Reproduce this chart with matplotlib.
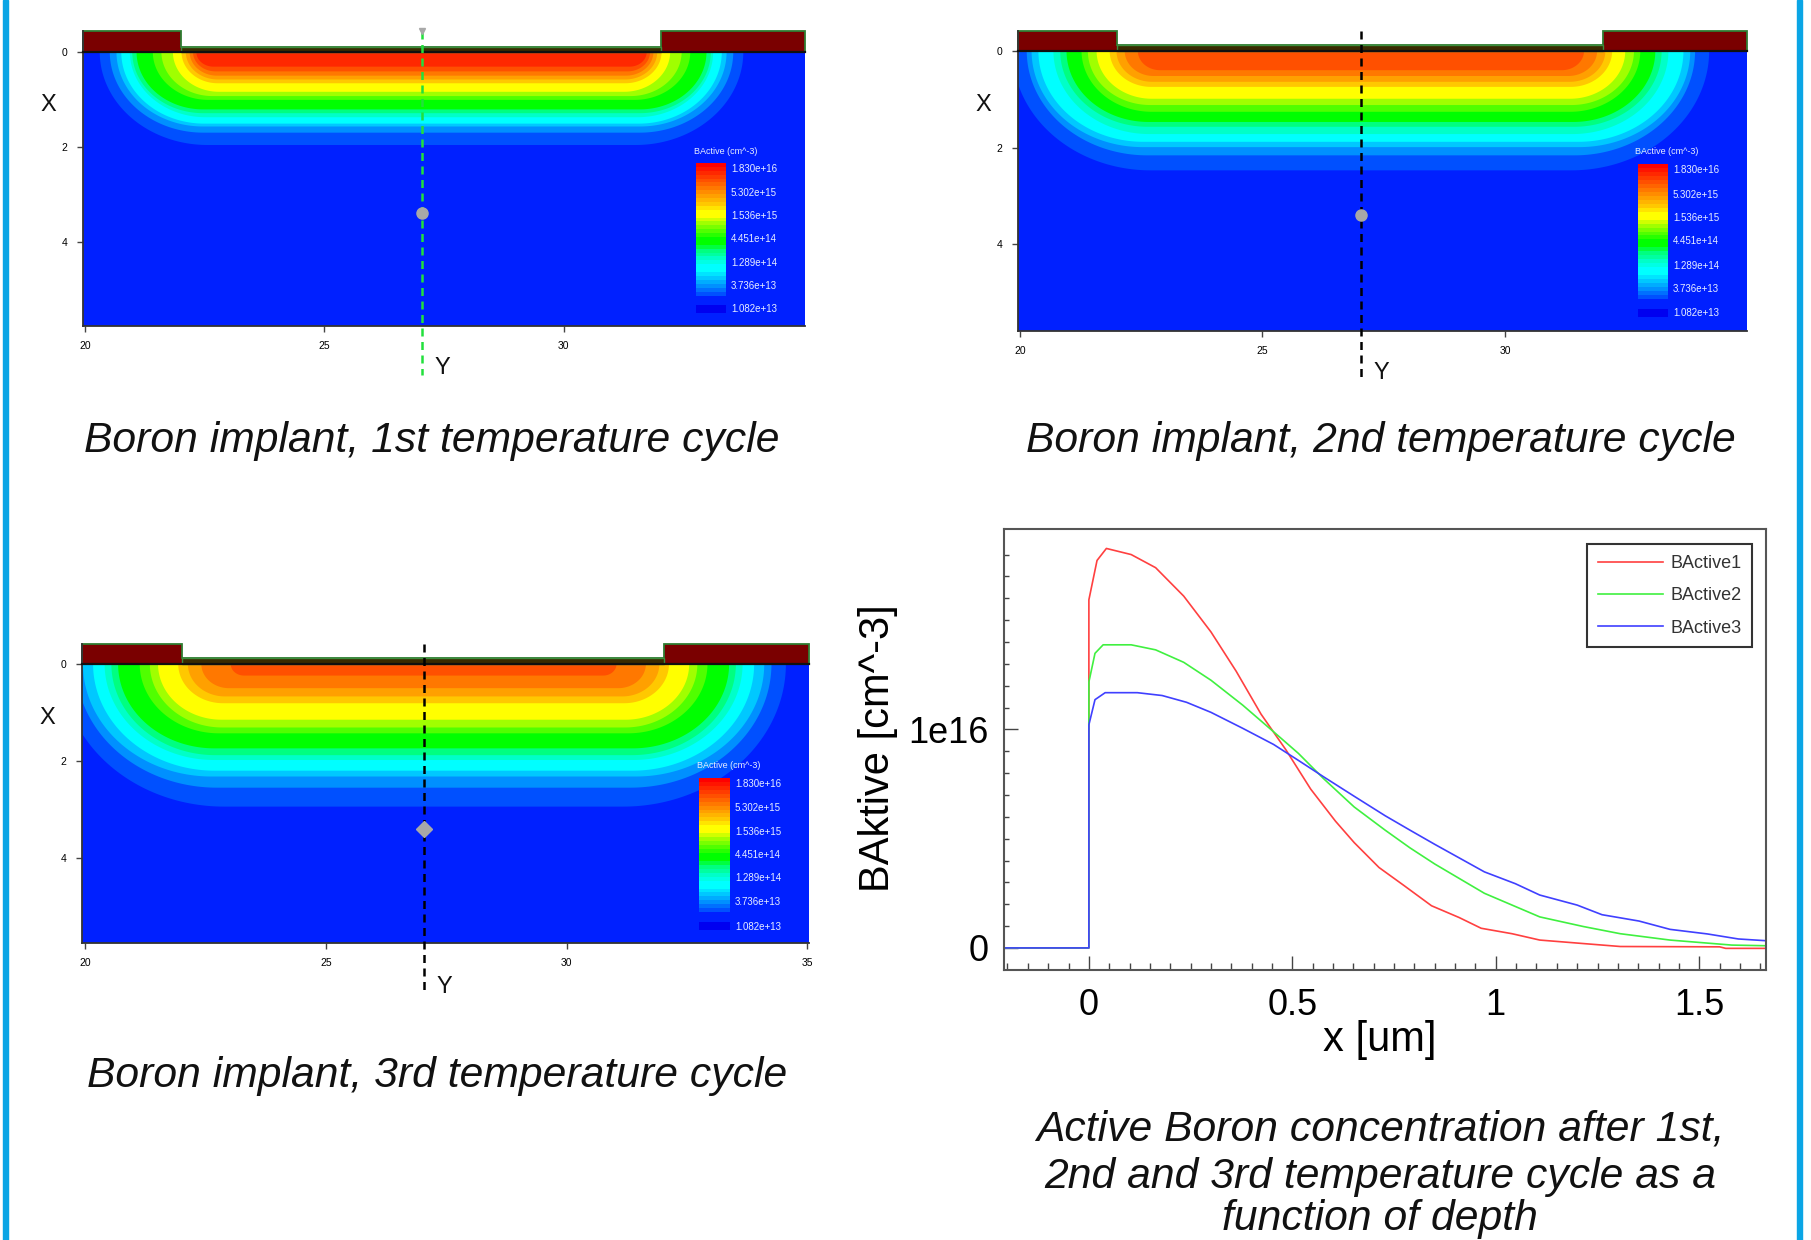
# boron implant panels and depth profiles

import numpy as np
import matplotlib
matplotlib.use("Agg")
import matplotlib.pyplot as plt
from matplotlib.patches import Rectangle

plt.rcParams["font.family"] = ["Liberation Sans", "DejaVu Sans"]

W, H = 1811, 1240

# colour bands of the implant, outermost band last
band_colors = ["#ff2800", "#ff5000", "#ff7800", "#ffa000", "#ffc800", "#ffff00", "#a0ff00", "#50ff00",
	"#00ff00", "#00ff80", "#00ffc8", "#00ffff", "#00c8ff", "#0090ff", "#0050ff"]

# depth of each band on the centre line, and its left edge at the surface
depth1 = [0.31, 0.41, 0.50, 0.58, 0.66, 0.84, 0.93, 1.01, 1.21, 1.29, 1.375, 1.51, 1.57, 1.70, 1.96]
left1 = [22.32, 22.25, 22.18, 22.10, 22.01, 21.83, 21.59, 21.41, 21.07, 20.98, 20.93, 20.75, 20.65, 20.51, 20.30]
depth2 = [0.40, 0.52, 0.64, 0.745, 0.99, 1.12, 1.26, 1.47, 1.57, 1.72, 1.88, 1.99, 2.16, 2.47]
left2 = [22.43, 22.16, 21.99, 21.85, 21.58, 21.40, 21.27, 20.96, 20.83, 20.69, 20.38, 20.24, 20.14, 19.85]
depth3 = [0.24, 0.50, 0.67, 0.81, 1.15, 1.31, 1.43, 1.74, 1.88, 1.98, 2.20, 2.32, 2.55, 2.94]
left3 = [23.02, 22.41, 22.13, 21.93, 21.51, 21.34, 21.13, 20.68, 20.54, 20.40, 20.16, 19.95, 19.80, 19.50]

bar_colors = ["#ff0000", "#ff1400", "#ff2800", "#ff3c00", "#ff5000", "#ff6400", "#ff7800", "#ff8c00", "#ffa000",
	"#ffb400", "#ffc800", "#ffe400", "#ffff00", "#ffff00", "#d0ff00", "#a0ff00", "#78ff00", "#50ff00", "#28ff00",
	"#00ff00", "#00ff00", "#00ff40", "#00ff80", "#00ffa0", "#00ffc8", "#00ffe4", "#00ffff", "#00ffff", "#00e4ff",
	"#00c8ff", "#00acff", "#0090ff", "#0070ff", "#0050ff"]
bar_labels = ["1.830e+16", "5.302e+15", "1.536e+15", "4.451e+14", "1.289e+14", "3.736e+13", "1.082e+13"]

# depth profiles, x in um and concentration in 1e16 cm^-3
x1 = [-0.2086, 0, 0, 0.02, 0.043, 0.104, 0.164, 0.233, 0.30, 0.362, 0.423, 0.484, 0.545, 0.606, 0.652, 0.713,
	0.774, 0.842, 0.91, 0.964, 1.04, 1.108, 1.215, 1.306, 1.55, 1.565, 1.664]
b1 = [0, 0, 1.593, 1.773, 1.828, 1.80, 1.74, 1.61, 1.446, 1.266, 1.07, 0.907, 0.727, 0.58, 0.482, 0.368,
	0.286, 0.193, 0.139, 0.09, 0.065, 0.036, 0.02, 0.0065, 0.005, -0.002, -0.002]
x2 = [-0.2086, 0, 0, 0.015, 0.035, 0.104, 0.164, 0.233, 0.30, 0.378, 0.454, 0.515, 0.576, 0.652, 0.728, 0.789,
	0.85, 0.972, 1.108, 1.215, 1.306, 1.428, 1.58, 1.664]
b2 = [0, 0, 1.217, 1.348, 1.387, 1.387, 1.364, 1.307, 1.225, 1.111, 0.989, 0.89, 0.776, 0.645, 0.539, 0.458,
	0.384, 0.25, 0.142, 0.098, 0.065, 0.036, 0.013, 0.01]
x3 = [-0.2086, 0, 0, 0.015, 0.04, 0.119, 0.18, 0.24, 0.30, 0.378, 0.454, 0.515, 0.576, 0.652, 0.728, 0.789,
	0.85, 0.972, 1.048, 1.108, 1.2, 1.261, 1.352, 1.428, 1.52, 1.596, 1.664]
b3 = [0, 0, 1.021, 1.136, 1.168, 1.168, 1.155, 1.124, 1.078, 1.005, 0.931, 0.858, 0.784, 0.694, 0.605, 0.539,
	0.474, 0.348, 0.294, 0.242, 0.196, 0.152, 0.123, 0.085, 0.064, 0.041, 0.033]

def px_axes(fig, left, top, right, bottom):
	return fig.add_axes([left / W, 1 - bottom / H, (right - left) / W, (bottom - top) / H])

def px_text(fig, x, y, s, **kw):
	kw.setdefault("ha", "center")
	kw.setdefault("va", "center")
	fig.text(x / W, 1 - y / H, s, **kw)

def implant_panel(fig, box, xlim, ylim, thin, xticks, depth, left, colors, line_color, line_end, bar_box, label_ys, title_xy, x_pos, y_pos, dot_shape):
	ax = px_axes(fig, *box)
	ax.set_xlim(xlim)
	ax.set_ylim(ylim)
	ax.add_patch(Rectangle((xlim[0], 0), xlim[1] - xlim[0], ylim[0], color="#0020ff", zorder=0))

	# nested bands, outermost first
	t = np.linspace(0, np.pi / 2, 60)
	centre = 27.03
	for d, l, c in reversed(list(zip(depth, left, colors))):
		a = 1.15 * d
		lx = l + a - a * np.cos(t)
		ly = d * np.sin(t)
		xs = np.concatenate([lx, (2 * centre - lx)[::-1]])
		ys = np.concatenate([ly, ly[::-1]])
		ax.fill(xs, ys, color=c, lw=0, zorder=1)

	# oxide on top
	ox = [xlim[0], 22.0, 22.0, 32.03, 32.03, xlim[1], xlim[1], xlim[0]]
	oy = [ylim[1], ylim[1], thin, thin, ylim[1], ylim[1], 0, 0]
	ax.fill(ox, oy, facecolor="#7a0000", edgecolor="#2f7d32", lw=1.3, zorder=2, clip_on=False)
	ax.fill([22.0, 32.03, 32.03, 22.0], [thin, thin, 0, 0], facecolor="#3a2a00", edgecolor="#3c8c3c", lw=1.0, zorder=3)
	ax.plot(xlim, [0, 0], color="#101010", lw=1.6, zorder=4, clip_on=False)

	# cut line and its handle
	ax.plot([centre, centre], [ylim[1], line_end], color=line_color, lw=1.8, ls=(0, (3.2, 2.2)), zorder=5, clip_on=False)
	ax.plot([centre], [3.4], marker=dot_shape, ms=8, color="#a8a8a8", zorder=6)
	if line_color != "#000000":
		ax.plot([centre], [ylim[1]], marker="v", ms=5, color="#a8a8a8", zorder=6, clip_on=False)

	ax.set_xticks(xticks)
	ax.set_yticks([0, 2, 4])
	ax.tick_params(labelsize=7.5, length=4, width=1, color="#444444", pad=7)
	for s in ["top", "right"]:
		ax.spines[s].set_visible(False)
	for s in ["left", "bottom"]:
		ax.spines[s].set_color("#333333")
		ax.spines[s].set_linewidth(1.3)

	# colour legend
	bx = px_axes(fig, *bar_box)
	bx.barh(np.arange(len(bar_colors)), 1, height=1.02, color=bar_colors)
	bx.barh([len(bar_colors) + 3], 1, height=2.2, color="#0000f0")
	bx.set_xlim(0, 1)
	bx.set_ylim(len(bar_colors) + 4, -0.5)
	bx.axis("off")
	for lab, y in zip(bar_labels, label_ys):
		px_text(fig, bar_box[2] + 5, y, lab, ha="left", fontsize=7, color="#e8eeff")
	px_text(fig, title_xy[0], title_xy[1], "BActive (cm^-3)", ha="left", fontsize=6.5, color="#e8eeff")
	px_text(fig, x_pos[0], x_pos[1], "X", fontsize=17, color="#111111")
	px_text(fig, y_pos[0], y_pos[1], "Y", fontsize=17, color="#111111")
	return ax

fig = plt.figure(figsize=(W / 100, H / 100), dpi=100, facecolor="white")

# side stripes
fig.add_artist(Rectangle((3 / W, 0), 5 / W, 1, transform=fig.transFigure, color="#0aa5e5"))
fig.add_artist(Rectangle((1797 / W, 0), 5 / W, 1, transform=fig.transFigure, color="#0aa5e5"))

implant_panel(fig, (83, 31, 805, 326), (19.95, 35.05), (5.77, -0.44), -0.1, [20, 25, 30], depth1, left1, band_colors,
	"#22e03c", 6.8, (696, 163, 726, 313), [169, 193, 216, 239, 263, 286, 309], (694, 151), (48, 105), (442, 368), "o")
implant_panel(fig, (1018, 31, 1747, 331), (19.96, 34.99), (5.79, -0.41), -0.12, [20, 25, 30], depth2, left2, band_colors[1:],
	"#000000", 6.75, (1638, 164, 1668, 317), [170, 195, 218, 241, 266, 289, 313], (1635, 152), (983, 105), (1381, 373), "o")
implant_panel(fig, (82, 644, 809, 943), (19.93, 35.04), (5.75, -0.41), -0.117, [20, 25, 30, 35], depth3, left3, band_colors[1:],
	"#000000", 6.75, (699, 778, 730, 930), [784, 808, 832, 855, 878, 902, 927], (697, 766), (47, 718), (444, 987), "D")

# profile plot
ax = px_axes(fig, 1004, 529, 1766, 970)
ax.plot(x1, np.array(b1) * 1e16, color="#ff4040", lw=1.2, label="BActive1")
ax.plot(x2, np.array(b2) * 1e16, color="#40f040", lw=1.2, label="BActive2")
ax.plot(x3, np.array(b3) * 1e16, color="#4040ff", lw=1.2, label="BActive3")
ax.set_xlim(-0.2086, 1.664)
ax.set_ylim(-0.101e16, 1.917e16)
ax.set_xticks([0, 0.5, 1, 1.5], ["0", "0.5", "1", "1.5"])
ax.set_yticks([0, 1e16], ["0", "1e16"])
ax.set_xticks(np.arange(-0.2, 1.66, 0.05), minor=True)
ax.set_yticks(np.arange(0, 1.9, 0.1) * 1e16, minor=True)
ax.tick_params(axis="x", which="major", direction="in", length=10, width=1, labelsize=26, pad=13, color="#444444")
ax.tick_params(axis="y", which="major", direction="in", length=10, width=1, labelsize=26, pad=11, color="#444444")
ax.tick_params(axis="x", which="minor", direction="in", length=5, width=1, color="#444444")
ax.tick_params(axis="y", which="minor", direction="in", length=3.5, width=1, color="#444444")
for s in ax.spines.values():
	s.set_color("#555555")
	s.set_linewidth(1.5)
leg = ax.legend(loc="upper right", bbox_to_anchor=(0.982, 0.966), borderaxespad=0, fontsize=13, handlelength=3.6,
	handletextpad=0.4, labelspacing=0.85, borderpad=0.6, fancybox=False, framealpha=1, edgecolor="#333333", labelcolor="#333333")
leg.get_frame().set_linewidth(1.5)
px_text(fig, 1380, 1040, "x [um]", fontsize=30)
px_text(fig, 878, 748, "BAktive [cm^-3]", fontsize=30, rotation=90)

# captions
cap = dict(fontsize=30.7, style="italic", color="#111111")
px_text(fig, 432, 441, "Boron implant, 1st temperature cycle", **cap)
px_text(fig, 1381, 441, "Boron implant, 2nd temperature cycle", **cap)
px_text(fig, 437, 1076, "Boron implant, 3rd temperature cycle", **cap)
px_text(fig, 1380, 1129, "Active Boron concentration after 1st,", **cap)
px_text(fig, 1380, 1177, "2nd and 3rd temperature cycle as a", **cap)
px_text(fig, 1380, 1219, "function of depth", **cap)

plt.savefig("out.png", dpi=100)
